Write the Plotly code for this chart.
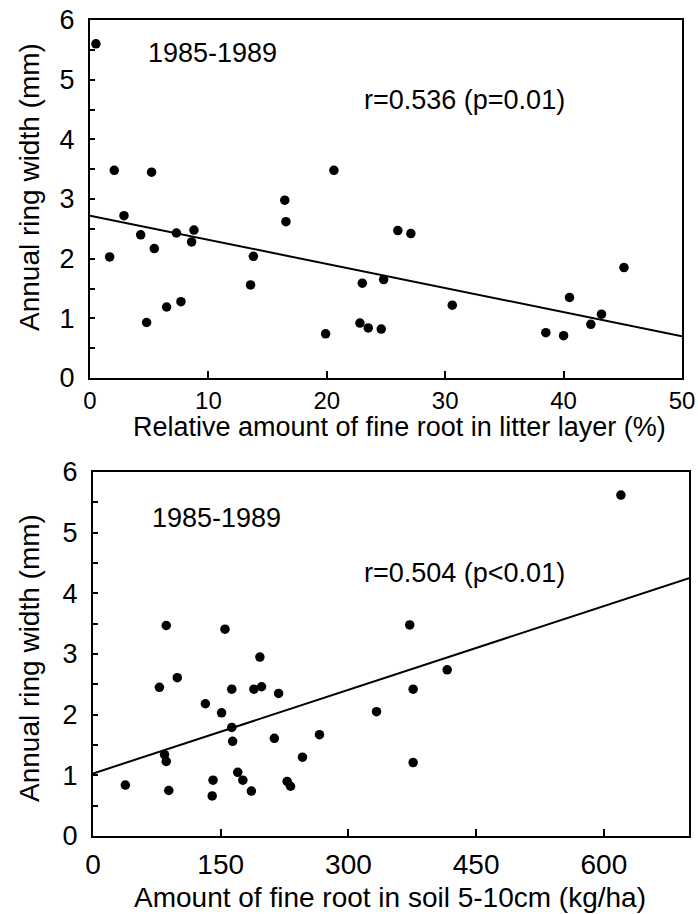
import plotly.graph_objects as go

# ---------------- data ----------------
top_x = [0.5, 2.05, 1.66, 2.87, 4.28, 4.78, 5.2, 5.43, 6.47, 7.3, 7.68, 8.78, 8.58,
         13.8, 13.56, 16.45, 16.55, 19.9, 20.6, 22.8, 23.0, 23.5, 24.6, 24.8, 26.0,
         27.1, 30.6, 38.5, 40.0, 40.5, 42.3, 43.2, 45.1]
top_y = [5.6, 3.48, 2.03, 2.72, 2.40, 0.93, 3.45, 2.17, 1.19, 2.43, 1.28, 2.48, 2.28,
         2.04, 1.56, 2.98, 2.62, 0.74, 3.48, 0.92, 1.59, 0.84, 0.82, 1.65, 2.47,
         2.42, 1.22, 0.76, 0.71, 1.35, 0.90, 1.07, 1.85]
top_fit_x = [0, 50]
top_fit_y = [2.72, 0.70]

bot_x = [86, 155, 196, 99, 78, 163, 189, 198, 218, 132, 151, 163, 164, 213, 84, 86,
         38, 89, 141, 140, 170, 176, 186, 228, 232, 246, 266, 333, 372, 376, 376, 416, 620]
bot_y = [3.47, 3.41, 2.95, 2.61, 2.45, 2.42, 2.42, 2.46, 2.35, 2.18, 2.03, 1.79, 1.56,
         1.61, 1.34, 1.23, 0.84, 0.75, 0.92, 0.66, 1.05, 0.92, 0.74, 0.90, 0.82, 1.30,
         1.67, 2.05, 3.48, 2.42, 1.21, 2.74, 5.62]
bot_fit_x = [0, 700]
bot_fit_y = [1.03, 4.25]

top_xticks = [0, 10, 20, 30, 40, 50]
bot_xticks = [0, 150, 300, 450, 600]
y_ticks = [0, 1, 2, 3, 4, 5, 6]

period_label = "1985-1989"
top_r_label = "r=0.536 (p=0.01)"
bot_r_label = "r=0.504 (p<0.01)"
y_title = "Annual ring width (mm)"
top_x_title = "Relative amount of fine root in litter layer (%)"
bot_x_title = "Amount of fine root in soil 5-10cm (kg/ha)"

# ---------------- layout helpers ----------------
W, H = 698, 914
FONT = "Liberation Sans, Arial, Helvetica, sans-serif"


def px(x):
    return x / W


def py(y):
    return 1 - y / H


fig = go.Figure()

marker = dict(color="black", size=9.5)
line = dict(color="black", width=2)

fig.add_trace(go.Scatter(x=top_x, y=top_y, mode="markers", marker=marker,
                         xaxis="x", yaxis="y", showlegend=False, hoverinfo="skip"))
fig.add_trace(go.Scatter(x=top_fit_x, y=top_fit_y, mode="lines", line=line,
                         xaxis="x", yaxis="y", showlegend=False, hoverinfo="skip"))
fig.add_trace(go.Scatter(x=bot_x, y=bot_y, mode="markers", marker=marker,
                         xaxis="x2", yaxis="y2", showlegend=False, hoverinfo="skip"))
fig.add_trace(go.Scatter(x=bot_fit_x, y=bot_fit_y, mode="lines", line=line,
                         xaxis="x2", yaxis="y2", showlegend=False, hoverinfo="skip"))

common_x = dict(showline=True, linewidth=2, linecolor="black", mirror=True,
                showgrid=False, zeroline=False, ticks="inside", ticklen=7,
                tickwidth=2, tickcolor="black", automargin=False)
common_y = dict(showline=True, linewidth=2, linecolor="black", mirror=True,
                showgrid=False, zeroline=False, ticks="inside", ticklen=5,
                tickwidth=2, tickcolor="black", range=[0, 6],
                tickvals=y_ticks, ticklabelstandoff=8, automargin=False,
                minor=dict(dtick=0.5, ticks="inside", ticklen=5, tickwidth=2,
                           tickcolor="black", showgrid=False),
                tickfont=dict(family=FONT, size=27, color="black"))

fig.update_layout(
    template="none",
    width=W, height=H, autosize=False,
    margin=dict(l=0, r=0, t=0, b=0, pad=0),
    paper_bgcolor="white", plot_bgcolor="white",
    font=dict(family=FONT, color="black"),
    xaxis=dict(common_x, domain=[px(90), px(682)], range=[0, 50],
               tickvals=top_xticks, anchor="y", ticklabelstandoff=0,
               tickfont=dict(family=FONT, size=24, color="black")),
    yaxis=dict(common_y, domain=[py(378), py(20)], anchor="x"),
    xaxis2=dict(common_x, domain=[px(93), px(689)], range=[0, 700],
                tickvals=bot_xticks, anchor="y2", ticklabelstandoff=2,
                tickfont=dict(family=FONT, size=28, color="black")),
    yaxis2=dict(common_y, domain=[py(836), py(472)], anchor="x2"),
)

ann_font = dict(family=FONT, size=27, color="black")
title_font = dict(family=FONT, size=28, color="black")
annotations = [
    dict(text=period_label, x=px(212), y=py(53), font=ann_font),
    dict(text=top_r_label, x=px(464), y=py(100), font=ann_font),
    dict(text=period_label, x=px(216), y=py(518), font=ann_font),
    dict(text=bot_r_label, x=px(464), y=py(573), font=ann_font),
    dict(text=top_x_title, x=px(399), y=py(427), font=dict(title_font, size=27)),
    dict(text=bot_x_title, x=px(390), y=py(897), font=title_font),
    dict(text=y_title, x=px(29), y=py(187), textangle=-90, font=title_font),
    dict(text=y_title, x=px(29), y=py(658), textangle=-90, font=title_font),
]
for a in annotations:
    a.update(xref="paper", yref="paper", showarrow=False,
             xanchor="center", yanchor="middle")
fig.update_layout(annotations=annotations)

fig.write_html(
    "out.html",
    config={"displayModeBar": False},
    post_script="document.body.style.margin='0';document.body.style.padding='0';"
                "document.body.style.overflow='hidden';",
)
